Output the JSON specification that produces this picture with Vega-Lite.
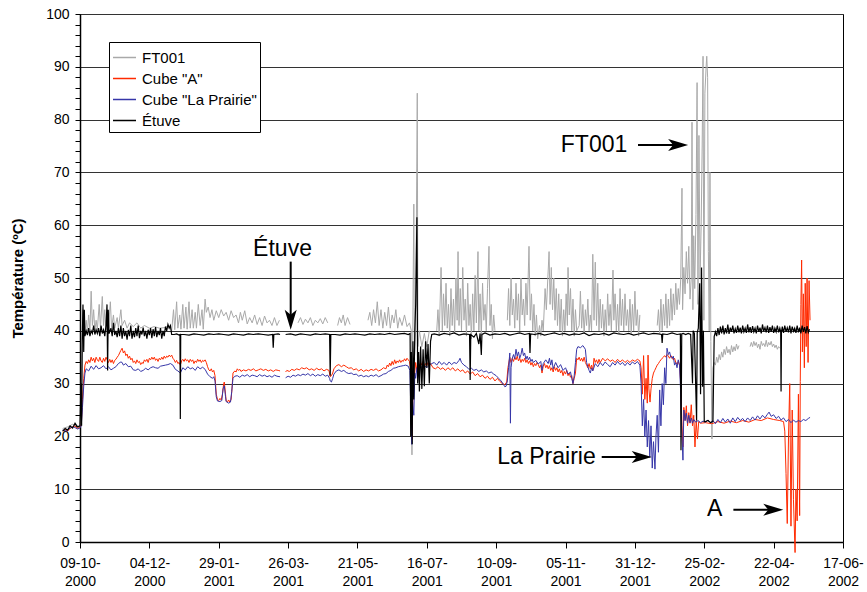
{
  "$schema": "https://vega.github.io/schema/vega-lite/v6.json",
  "width": 763,
  "height": 528,
  "autosize": {"type": "none"},
  "padding": {"left": 80, "top": 14, "right": 24, "bottom": 50},
  "background": "white",
  "config": {
    "font": "Liberation Sans",
    "view": {"stroke": "black", "strokeWidth": 1},
    "axis": {"labelFont": "Liberation Sans", "labelFontSize": 14, "labelColor": "black", "tickColor": "black", "domainColor": "black", "domainWidth": 1.5, "titleFont": "Liberation Sans", "titleFontSize": 15, "titleColor": "black"}
  },
  "datasets": {
    "ft": [
      {"d":-14,"t":21.5},{"d":-10,"t":21.8},{"d":-6,"t":22.3},{"d":-3,"t":22},{"d":0,"t":21.8},{"d":1,"t":28},{"d":1.6,"t":36},{"d":2.4,"t":44},{"d":3,"t":40},{"d":4,"t":39.5},{"d":5,"t":42},{"d":6,"t":39.8},{"d":7,"t":43},{"d":8,"t":40},{"d":9,"t":47.5},{"d":10,"t":41},{"d":11,"t":44},{"d":12,"t":40},{"d":13,"t":42},{"d":14,"t":40.2},{"d":15.5,"t":45},{"d":16.5,"t":40.5},{"d":18,"t":46.5},{"d":19,"t":41},{"d":20,"t":44},{"d":21,"t":40},{"d":22,"t":43},{"d":23,"t":40.5},{"d":24.5,"t":45.5},{"d":25.5,"t":40.5},{"d":27,"t":43},{"d":28,"t":40.5},{"d":30,"t":42.5},{"d":31,"t":40.5},{"d":33,"t":44},{"d":34,"t":41},{"d":36,"t":42},{"d":38,"t":40.5},{"d":40,"t":41.5},{"d":43,"t":40.8},{"d":46,"t":41.5},{"d":49,"t":40.5},{"d":52,"t":41},{"d":56,"t":40.5},{"d":60,"t":40.8},{"d":64,"t":40.5},{"d":68,"t":40.6},{"d":72,"t":41},{"d":74,"t":40},{"d":75.5,"t":44},{"d":76.5,"t":40.2},{"d":78,"t":45.5},{"d":79,"t":40.5},{"d":80.5,"t":43},{"d":81.5,"t":40.3},{"d":83,"t":45},{"d":84,"t":40.5},{"d":85.5,"t":44.5},{"d":86.5,"t":40.3},{"d":88,"t":45.5},{"d":89,"t":40.5},{"d":90.5,"t":44},{"d":91.5,"t":40.5},{"d":93,"t":43.5},{"d":94,"t":40.5},{"d":95.5,"t":45},{"d":97,"t":41},{"d":98.5,"t":44},{"d":99.5,"t":40.3},{"d":101,"t":46},{"d":102,"t":43.5},{"d":103.5,"t":44.5},{"d":105,"t":42.5},{"d":106.5,"t":44},{"d":108,"t":42},{"d":110,"t":43.8},{"d":112,"t":42.5},{"d":114,"t":44},{"d":116,"t":42.8},{"d":118,"t":43.5},{"d":120,"t":42},{"d":122,"t":43.8},{"d":124,"t":42.5},{"d":126,"t":43},{"d":128,"t":41.5},{"d":129.5,"t":43.5},{"d":131,"t":42},{"d":133,"t":43.8},{"d":135,"t":41.3},{"d":137,"t":42.5},{"d":139,"t":41.5},{"d":141,"t":43},{"d":143,"t":41.2},{"d":145,"t":42.5},{"d":147,"t":41},{"d":149,"t":42.8},{"d":151,"t":41.5},{"d":153,"t":42},{"d":155,"t":41},{"d":157,"t":42.5},{"d":159,"t":41},{"d":161,"t":42},{"d":162,"t":null},
      {"d":176,"t":41.5},{"d":178,"t":42.5},{"d":180,"t":41.2},{"d":182,"t":42.2},{"d":184,"t":41.5},{"d":186,"t":42.5},{"d":188,"t":41},{"d":190,"t":42},{"d":192,"t":41.5},{"d":194,"t":42.3},{"d":196,"t":41.3},{"d":198,"t":42.5},{"d":200,"t":41.5},{"d":202,"t":null},
      {"d":208,"t":41},{"d":209.5,"t":42.5},{"d":211,"t":41.5},{"d":212.5,"t":43},{"d":214,"t":41},{"d":216,"t":42.5},{"d":218,"t":41.2},{"d":219,"t":null},
      {"d":232.5,"t":42},{"d":234,"t":43.5},{"d":235.5,"t":41},{"d":237,"t":44},{"d":238.5,"t":41.5},{"d":240,"t":45.5},{"d":241.5,"t":41},{"d":243,"t":44},{"d":244.5,"t":40.5},{"d":246,"t":43.5},{"d":247.5,"t":41},{"d":249,"t":44.5},{"d":250.5,"t":40.5},{"d":252,"t":43},{"d":253.5,"t":41.5},{"d":255,"t":44},{"d":256.5,"t":40.5},{"d":258,"t":42.5},{"d":260,"t":41},{"d":262,"t":43},{"d":264,"t":40.8},{"d":266,"t":41.5},{"d":267.5,"t":40},{"d":268,"t":16.5},{"d":268.6,"t":38},{"d":269.5,"t":64},{"d":270,"t":35},{"d":271,"t":40},{"d":272.3,"t":85},{"d":272.8,"t":37},{"d":274,"t":40},{"d":276,"t":37},{"d":278,"t":39.5},{"d":280,"t":37},{"d":282,"t":40},{"d":284,"t":null},
      {"d":288,"t":40},{"d":289,"t":44},{"d":290,"t":39},{"d":291.5,"t":52},{"d":292.5,"t":40},{"d":293.5,"t":47},{"d":294.5,"t":41},{"d":295.5,"t":49},{"d":296.5,"t":40.5},{"d":297.5,"t":45},{"d":298.5,"t":39},{"d":299.5,"t":48},{"d":300.5,"t":41},{"d":301.5,"t":46},{"d":302.5,"t":39.5},{"d":303.5,"t":50},{"d":304.5,"t":42},{"d":305.2,"t":55},{"d":306,"t":41},{"d":307,"t":48},{"d":308,"t":40},{"d":309,"t":52},{"d":310,"t":42},{"d":311,"t":46},{"d":312,"t":39},{"d":313,"t":49},{"d":314,"t":41},{"d":315,"t":45},{"d":316,"t":38.5},{"d":317,"t":47},{"d":318,"t":40},{"d":319,"t":50.5},{"d":320,"t":41.5},{"d":321.3,"t":55},{"d":322,"t":40},{"d":323,"t":47},{"d":324,"t":39},{"d":325,"t":49},{"d":326,"t":42},{"d":327,"t":45},{"d":328,"t":40},{"d":329,"t":48},{"d":330.2,"t":56},{"d":331,"t":41},{"d":332,"t":45},{"d":333,"t":38.5},{"d":334,"t":43},{"d":335,"t":40},{"d":336,"t":null},
      {"d":345,"t":42},{"d":346,"t":48},{"d":347,"t":41},{"d":348,"t":50},{"d":349,"t":43},{"d":350,"t":46},{"d":351,"t":40.5},{"d":352,"t":49},{"d":353,"t":42},{"d":354,"t":47},{"d":355,"t":40},{"d":356,"t":50},{"d":357,"t":43},{"d":358,"t":46},{"d":359,"t":41},{"d":360,"t":49},{"d":361,"t":43},{"d":362.5,"t":56},{"d":363.5,"t":42},{"d":364.5,"t":47},{"d":365.5,"t":40},{"d":366.5,"t":45},{"d":367.5,"t":39},{"d":368.5,"t":43},{"d":369.5,"t":38.5},{"d":371,"t":41},{"d":372,"t":39},{"d":373,"t":42},{"d":374,"t":40},{"d":375.5,"t":48},{"d":376.5,"t":44},{"d":378.7,"t":55},{"d":379.5,"t":45},{"d":380.5,"t":52},{"d":381.5,"t":44},{"d":382.5,"t":50},{"d":383.5,"t":42},{"d":384.5,"t":48},{"d":385.5,"t":41},{"d":386.5,"t":47},{"d":387.5,"t":40},{"d":388.5,"t":46},{"d":389.5,"t":39},{"d":390.5,"t":44},{"d":391.5,"t":40},{"d":392.5,"t":47},{"d":393.5,"t":41},{"d":394,"t":52},{"d":395,"t":43},{"d":396,"t":48},{"d":397,"t":40},{"d":398,"t":46},{"d":399,"t":39},{"d":400,"t":44},{"d":401,"t":40},{"d":403,"t":41},{"d":404,"t":47.5},{"d":405,"t":40.5},{"d":406,"t":45},{"d":407,"t":39.5},{"d":408,"t":44},{"d":409,"t":41},{"d":410,"t":46},{"d":411,"t":40},{"d":412,"t":43},{"d":413,"t":40},{"d":414,"t":54.5},{"d":415,"t":42},{"d":416,"t":53},{"d":417,"t":41},{"d":418,"t":49},{"d":419,"t":40},{"d":420,"t":46},{"d":421,"t":40.5},{"d":422,"t":45},{"d":423,"t":39},{"d":424,"t":44},{"d":425,"t":40},{"d":426,"t":47},{"d":427,"t":41},{"d":428,"t":45},{"d":429,"t":40},{"d":430.3,"t":51.5},{"d":431,"t":42},{"d":432,"t":47},{"d":433,"t":40},{"d":434,"t":45},{"d":435,"t":39.5},{"d":436,"t":48},{"d":437,"t":41},{"d":438,"t":46},{"d":439,"t":40},{"d":440,"t":47},{"d":441,"t":41},{"d":442,"t":44},{"d":443,"t":40},{"d":444,"t":46},{"d":445,"t":39.5},{"d":446,"t":45},{"d":447,"t":40},{"d":448,"t":47.5},{"d":449,"t":41},{"d":450,"t":44},{"d":451,"t":39},{"d":452,"t":43},{"d":453,"t":null},
      {"d":466,"t":41},{"d":467,"t":44},{"d":468,"t":39.5},{"d":469,"t":46},{"d":470,"t":40},{"d":471,"t":45},{"d":472,"t":41},{"d":473,"t":47},{"d":474,"t":40.5},{"d":475,"t":46},{"d":476,"t":41},{"d":477,"t":48},{"d":478,"t":42},{"d":479,"t":47},{"d":480,"t":43},{"d":481,"t":49},{"d":482,"t":44},{"d":483,"t":48},{"d":484,"t":45},{"d":485,"t":50},{"d":486,"t":67},{"d":486.5,"t":44},{"d":487.5,"t":52},{"d":488.5,"t":47},{"d":489.5,"t":55},{"d":490.5,"t":49},{"d":491.5,"t":56},{"d":492.5,"t":46},{"d":493.5,"t":50},{"d":494.1,"t":79.5},{"d":494.8,"t":44},{"d":495.5,"t":58},{"d":496.3,"t":48},{"d":497.3,"t":62},{"d":498.2,"t":87},{"d":498.9,"t":45},{"d":499.7,"t":77},{"d":500.6,"t":50},{"d":501.5,"t":60},{"d":502.3,"t":75},{"d":503,"t":92},{"d":503.7,"t":42},{"d":504.5,"t":85},{"d":505.5,"t":90},{"d":506,"t":92},{"d":506.7,"t":88},{"d":507.3,"t":55},{"d":508,"t":40},{"d":508.6,"t":70},{"d":509.3,"t":38},{"d":510.2,"t":19.5},{"d":511,"t":33},{"d":512,"t":34},{"d":513,"t":33.5},{"d":514,"t":35},{"d":515,"t":34},{"d":516,"t":35.5},{"d":517,"t":34.5},{"d":518,"t":36},{"d":519,"t":35},{"d":520,"t":36.5},{"d":521,"t":35.5},{"d":522,"t":37},{"d":523,"t":35.8},{"d":524,"t":36.5},{"d":525,"t":35.5},{"d":526,"t":37.2},{"d":527,"t":36},{"d":528,"t":37},{"d":529,"t":36.2},{"d":530,"t":37.5},{"d":531,"t":36.5},{"d":532,"t":37.2},{"d":533,"t":null},
      {"d":541,"t":37},{"d":542,"t":37.8},{"d":543,"t":37},{"d":544,"t":38},{"d":545,"t":37.2},{"d":546,"t":37.8},{"d":547,"t":36.8},{"d":548,"t":37.5},{"d":549,"t":36.5},{"d":550,"t":38},{"d":551,"t":37.2},{"d":552,"t":37.6},{"d":553,"t":37},{"d":554,"t":38.2},{"d":555,"t":37},{"d":556,"t":37.8},{"d":557,"t":37.3},{"d":558,"t":38},{"d":559,"t":37},{"d":560,"t":37.5},{"d":561,"t":36.8},{"d":562,"t":37.3},{"d":563,"t":36.5},{"d":564,"t":37},{"d":565,"t":36.7}
    ],
    "cubeA": [
      {"d":-14,"t":21},{"d":-12,"t":21.3},{"d":-10,"t":21},{"d":-8,"t":21.5},{"d":-6,"t":21.8},{"d":-4,"t":22},{"d":-2,"t":21.5},{"d":0,"t":21.8},{"d":1,"t":22},{"d":2,"t":27},{"d":3,"t":31},{"d":4,"t":33.5},{"d":5,"t":34.2},{"d":6,"t":33.8},{"d":7,"t":34.5},{"d":8,"t":34},{"d":9,"t":35},{"d":10,"t":34.3},{"d":11,"t":34.8},{"d":12,"t":34},{"d":13,"t":35},{"d":14,"t":34.5},{"d":15,"t":34.2},{"d":16,"t":35},{"d":17,"t":34.3},{"d":18,"t":34},{"d":19,"t":34.8},{"d":20,"t":34.2},{"d":21,"t":35},{"d":22,"t":34.5},{"d":23,"t":34},{"d":24,"t":34.6},{"d":25,"t":34},{"d":26,"t":34.5},{"d":27,"t":33.8},{"d":28,"t":34.4},{"d":29,"t":34.6},{"d":30,"t":35},{"d":31,"t":35.3},{"d":32,"t":35.8},{"d":33,"t":36.3},{"d":34,"t":36.7},{"d":35,"t":35.8},{"d":36,"t":36.2},{"d":37,"t":35.3},{"d":38,"t":35.6},{"d":39,"t":34.8},{"d":40,"t":35.2},{"d":41,"t":34.5},{"d":42,"t":34.8},{"d":43,"t":34},{"d":44,"t":34.3},{"d":45,"t":33.8},{"d":46,"t":34.5},{"d":47,"t":34},{"d":48,"t":34.2},{"d":49,"t":33.6},{"d":50,"t":34},{"d":51,"t":33.8},{"d":52,"t":34.5},{"d":53,"t":34.2},{"d":54,"t":34.6},{"d":55,"t":34},{"d":56,"t":34.8},{"d":57,"t":34.5},{"d":58,"t":35},{"d":59,"t":34.6},{"d":60,"t":35},{"d":61,"t":34.4},{"d":62,"t":34.7},{"d":63,"t":34.2},{"d":64,"t":34.8},{"d":65,"t":34.5},{"d":66,"t":35},{"d":67,"t":34.6},{"d":68,"t":35.2},{"d":69,"t":34.8},{"d":70,"t":35.2},{"d":71,"t":35},{"d":72,"t":35.4},{"d":73,"t":35.1},{"d":74,"t":35.4},{"d":75,"t":34.8},{"d":76,"t":34.5},{"d":77,"t":34},{"d":78,"t":34.4},{"d":79,"t":33.8},{"d":80,"t":34},{"d":81,"t":33.5},{"d":82,"t":34.3},{"d":83,"t":34.6},{"d":84,"t":34.2},{"d":85,"t":34.7},{"d":86,"t":34.3},{"d":87,"t":34.5},{"d":88,"t":34},{"d":89,"t":34.6},{"d":90,"t":34.2},{"d":91,"t":34.5},{"d":92,"t":33.8},{"d":93,"t":34.3},{"d":94,"t":34},{"d":95,"t":34.6},{"d":96,"t":34.2},{"d":97,"t":34.5},{"d":98,"t":34},{"d":99,"t":34.4},{"d":100,"t":34.2},{"d":101,"t":34.5},{"d":102,"t":34},{"d":103,"t":33.2},{"d":104,"t":32.6},{"d":105,"t":32.4},{"d":106,"t":32.8},{"d":107,"t":32.2},{"d":108,"t":32.5},{"d":109,"t":31.5},{"d":110,"t":28},{"d":111,"t":27},{"d":112,"t":26.8},{"d":113,"t":27.2},{"d":114,"t":26.9},{"d":115,"t":28},{"d":116,"t":30},{"d":116.5,"t":30.3},{"d":117.5,"t":28},{"d":118,"t":26.7},{"d":119,"t":26.5},{"d":120,"t":26.9},{"d":121,"t":26.5},{"d":122,"t":27},{"d":122.7,"t":29},{"d":123.5,"t":32},{"d":125,"t":32.4},{"d":126,"t":32.2},{"d":127,"t":32.8},{"d":128,"t":32.5},{"d":129,"t":32.7},{"d":130,"t":32.3},{"d":132,"t":32.6},{"d":134,"t":32.4},{"d":136,"t":32.7},{"d":138,"t":32.5},{"d":140,"t":32.8},{"d":142,"t":32.4},{"d":144,"t":32.6},{"d":146,"t":32.8},{"d":148,"t":32.5},{"d":150,"t":32.7},{"d":152,"t":32.4},{"d":154,"t":32.6},{"d":156,"t":32.3},{"d":158,"t":32.6},{"d":160,"t":32.5},{"d":161.5,"t":32.4},{"d":162,"t":null},
      {"d":166,"t":32.2},{"d":167,"t":32.5},{"d":169,"t":32.3},{"d":171,"t":32.7},{"d":173,"t":32.5},{"d":175,"t":32.8},{"d":177,"t":32.6},{"d":179,"t":33},{"d":181,"t":32.8},{"d":183,"t":33},{"d":185,"t":32.6},{"d":187,"t":32.8},{"d":189,"t":32.5},{"d":191,"t":32.9},{"d":193,"t":32.6},{"d":195,"t":32.8},{"d":197,"t":32.4},{"d":199,"t":32.7},{"d":201,"t":32.5},{"d":202,"t":31.3},{"d":203,"t":31.5},{"d":204,"t":32},{"d":205,"t":32.8},{"d":207,"t":33.4},{"d":209,"t":33.6},{"d":211,"t":33.2},{"d":213,"t":33.5},{"d":215,"t":33.2},{"d":217,"t":32.9},{"d":219,"t":33},{"d":221,"t":32.6},{"d":223,"t":32.8},{"d":225,"t":32.4},{"d":227,"t":32.7},{"d":229,"t":32.3},{"d":231,"t":32.6},{"d":233,"t":32.4},{"d":235,"t":32.7},{"d":237,"t":32.5},{"d":239,"t":32.8},{"d":241,"t":32.4},{"d":243,"t":32.6},{"d":245,"t":33},{"d":247,"t":32.8},{"d":248,"t":33.5},{"d":249,"t":33.2},{"d":250,"t":33.9},{"d":251,"t":33.4},{"d":252,"t":34.2},{"d":253,"t":33.6},{"d":254,"t":34.5},{"d":255,"t":33.8},{"d":256,"t":34.3},{"d":257,"t":34},{"d":258,"t":34.5},{"d":259,"t":34},{"d":260,"t":34.4},{"d":261,"t":34.2},{"d":262,"t":34.7},{"d":263,"t":34.3},{"d":264,"t":34.8},{"d":265,"t":34.5},{"d":266,"t":34.2},{"d":266.8,"t":33},{"d":267.5,"t":24},{"d":268,"t":19.5},{"d":268.5,"t":24},{"d":269,"t":33},{"d":270,"t":31.5},{"d":271,"t":34},{"d":272,"t":32.5},{"d":273,"t":33.8},{"d":274,"t":33},{"d":275,"t":34},{"d":276,"t":33.5},{"d":277,"t":34.2},{"d":278,"t":33.2},{"d":279,"t":33.8},{"d":280,"t":33.4},{"d":281,"t":34},{"d":282,"t":33.3},{"d":283,"t":33.8},{"d":285,"t":33},{"d":287,"t":32.8},{"d":289,"t":33.2},{"d":291,"t":32.7},{"d":293,"t":33},{"d":295,"t":32.5},{"d":297,"t":33},{"d":299,"t":32.6},{"d":301,"t":33},{"d":303,"t":32.4},{"d":305,"t":32.8},{"d":307,"t":32.3},{"d":309,"t":32.6},{"d":311,"t":32},{"d":313,"t":32.4},{"d":315,"t":31.8},{"d":317,"t":32.2},{"d":319,"t":31.5},{"d":321,"t":31.9},{"d":323,"t":31.3},{"d":325,"t":31.6},{"d":327,"t":31},{"d":329,"t":31.4},{"d":331,"t":30.8},{"d":333,"t":31.2},{"d":335,"t":30.5},{"d":337,"t":31},{"d":339,"t":30.4},{"d":341,"t":30},{"d":343,"t":29.8},{"d":344.5,"t":30.3},{"d":345.5,"t":33},{"d":347,"t":35},{"d":348,"t":34},{"d":349,"t":34.8},{"d":350,"t":34.2},{"d":351,"t":35},{"d":352,"t":34.5},{"d":353,"t":35.2},{"d":354,"t":34.3},{"d":355,"t":34.8},{"d":356,"t":34},{"d":357,"t":34.6},{"d":358,"t":34.2},{"d":359,"t":34.8},{"d":360,"t":34},{"d":361,"t":34.5},{"d":362,"t":33.8},{"d":363,"t":34.3},{"d":364,"t":33.5},{"d":365,"t":34},{"d":366,"t":33.2},{"d":367,"t":33.8},{"d":368,"t":33.4},{"d":369,"t":34},{"d":370,"t":33.6},{"d":371,"t":33},{"d":372,"t":33.5},{"d":373,"t":32},{"d":374,"t":33.3},{"d":375,"t":33.8},{"d":376,"t":33},{"d":377,"t":33.5},{"d":378,"t":32.8},{"d":379,"t":33.4},{"d":380,"t":32.5},{"d":381,"t":33},{"d":382,"t":32.2},{"d":383,"t":33.2},{"d":384,"t":32.5},{"d":385,"t":33},{"d":386,"t":32.2},{"d":387,"t":32.8},{"d":388,"t":32},{"d":389,"t":32.5},{"d":390,"t":31.5},{"d":391,"t":32.3},{"d":392,"t":31.8},{"d":393,"t":32.5},{"d":394,"t":31.5},{"d":395,"t":32},{"d":396,"t":31.2},{"d":397,"t":31.5},{"d":398,"t":30},{"d":399,"t":31},{"d":400,"t":32},{"d":401,"t":34.8},{"d":402,"t":34.5},{"d":403,"t":35},{"d":404,"t":34.3},{"d":405,"t":34.8},{"d":406,"t":34.2},{"d":407,"t":35},{"d":408,"t":34},{"d":409,"t":33.5},{"d":410,"t":33},{"d":411,"t":33.8},{"d":412,"t":32.8},{"d":413,"t":33.5},{"d":414,"t":32.5},{"d":415,"t":34.8},{"d":416,"t":34},{"d":417,"t":34.5},{"d":418,"t":33.8},{"d":419,"t":34.6},{"d":420,"t":34},{"d":422,"t":34.8},{"d":424,"t":34.3},{"d":426,"t":34.7},{"d":428,"t":34.2},{"d":430,"t":34.5},{"d":432,"t":34},{"d":434,"t":34.6},{"d":436,"t":34.1},{"d":438,"t":34.5},{"d":440,"t":34},{"d":442,"t":34.4},{"d":444,"t":34},{"d":446,"t":34.5},{"d":448,"t":34.2},{"d":450,"t":34.6},{"d":452,"t":34.3},{"d":453,"t":33},{"d":454,"t":28},{"d":455,"t":35.3},{"d":456,"t":27},{"d":457,"t":31},{"d":458,"t":26.3},{"d":458.6,"t":35.4},{"d":459.3,"t":29},{"d":460.2,"t":26.5},{"d":461,"t":29},{"d":462,"t":31},{"d":463,"t":32},{"d":464,"t":32.5},{"d":465,"t":33},{"d":466,"t":33.5},{"d":467,"t":33.8},{"d":468,"t":34.2},{"d":469,"t":34.5},{"d":470,"t":34.8},{"d":471,"t":35},{"d":472,"t":35.3},{"d":473,"t":35},{"d":474,"t":35.5},{"d":475,"t":35.2},{"d":476,"t":34.8},{"d":477,"t":35.3},{"d":478,"t":35},{"d":479,"t":34.5},{"d":480,"t":34.8},{"d":481,"t":34},{"d":482,"t":33.7},{"d":483,"t":34.2},{"d":484,"t":33.5},{"d":485,"t":30},{"d":486,"t":22},{"d":486.8,"t":18},{"d":487.5,"t":25.5},{"d":488.5,"t":23},{"d":489.5,"t":25.8},{"d":490.5,"t":22},{"d":491.5,"t":24.5},{"d":492.5,"t":22.5},{"d":493.5,"t":26},{"d":494.5,"t":22},{"d":495.5,"t":24},{"d":496.5,"t":18},{"d":497.5,"t":23},{"d":498.5,"t":19.5},{"d":499.5,"t":22.8},{"d":501,"t":22.5},{"d":505,"t":22.6},{"d":510,"t":22.4},{"d":515,"t":22.8},{"d":520,"t":22.5},{"d":525,"t":22.9},{"d":530,"t":22.6},{"d":535,"t":23},{"d":540,"t":22.7},{"d":545,"t":23.2},{"d":550,"t":23},{"d":555,"t":23.5},{"d":560,"t":23.2},{"d":565,"t":23},{"d":568,"t":22.8},{"d":569,"t":21},{"d":570,"t":13},{"d":571,"t":3.5},{"d":572,"t":20},{"d":573,"t":30},{"d":574,"t":3},{"d":575,"t":25},{"d":576,"t":8},{"d":577.3,"t":-2},{"d":578,"t":10},{"d":579,"t":4},{"d":580,"t":28},{"d":581,"t":5},{"d":581.5,"t":30.4},{"d":582,"t":45},{"d":582.6,"t":53.4},{"d":583.2,"t":36},{"d":584,"t":47},{"d":584.8,"t":33},{"d":585.5,"t":49},{"d":586.3,"t":37},{"d":587,"t":50},{"d":587.8,"t":34},{"d":588.6,"t":49.5},{"d":589.4,"t":42}
    ],
    "prairie": [
      {"d":-14,"t":21.2},{"d":-11,"t":21},{"d":-8,"t":21.6},{"d":-5,"t":21.8},{"d":-2,"t":21.4},{"d":0,"t":21.6},{"d":1,"t":22},{"d":2,"t":25.5},{"d":3,"t":29.5},{"d":4,"t":32},{"d":5,"t":32.8},{"d":7,"t":32.4},{"d":9,"t":33.3},{"d":11,"t":32.7},{"d":13,"t":33.4},{"d":15,"t":32.8},{"d":17,"t":33},{"d":19,"t":33.4},{"d":21,"t":32.8},{"d":23,"t":33.2},{"d":25,"t":32.6},{"d":27,"t":32.9},{"d":29,"t":33.2},{"d":31,"t":33.8},{"d":33,"t":34.1},{"d":34,"t":34},{"d":35,"t":33.5},{"d":37,"t":33.8},{"d":39,"t":33.2},{"d":41,"t":33.3},{"d":43,"t":32.6},{"d":45,"t":32.5},{"d":47,"t":32.8},{"d":49,"t":32.3},{"d":51,"t":32.5},{"d":53,"t":32.9},{"d":55,"t":32.6},{"d":57,"t":33},{"d":59,"t":33.2},{"d":61,"t":33},{"d":63,"t":32.9},{"d":65,"t":33.3},{"d":67,"t":33.4},{"d":69,"t":33.5},{"d":71,"t":33.6},{"d":73,"t":33.8},{"d":75,"t":33.5},{"d":77,"t":32.7},{"d":79,"t":32.4},{"d":81,"t":32},{"d":83,"t":33},{"d":85,"t":32.6},{"d":87,"t":33.2},{"d":89,"t":32.8},{"d":91,"t":33},{"d":93,"t":32.5},{"d":95,"t":33.2},{"d":97,"t":32.8},{"d":99,"t":33.1},{"d":101,"t":32.7},{"d":103,"t":31.8},{"d":105,"t":31.3},{"d":107,"t":31},{"d":108,"t":31.3},{"d":109,"t":30.5},{"d":110,"t":27.5},{"d":111,"t":26.7},{"d":113,"t":26.6},{"d":114.5,"t":26.8},{"d":115.5,"t":29},{"d":116.5,"t":29.6},{"d":117.5,"t":27.5},{"d":118,"t":26.6},{"d":120,"t":26.3},{"d":121.5,"t":26.5},{"d":122.5,"t":28.5},{"d":123.5,"t":31},{"d":125,"t":31.4},{"d":127,"t":31.5},{"d":129,"t":31.2},{"d":131,"t":31.6},{"d":133,"t":31.4},{"d":135,"t":31.7},{"d":137,"t":31.3},{"d":139,"t":31.6},{"d":141,"t":31.5},{"d":143,"t":31.3},{"d":145,"t":31.7},{"d":147,"t":31.4},{"d":149,"t":31.6},{"d":151,"t":31.3},{"d":153,"t":31.5},{"d":155,"t":31.2},{"d":157,"t":31.6},{"d":159,"t":31.4},{"d":161.5,"t":31.3},{"d":162,"t":null},
      {"d":166,"t":31.1},{"d":168,"t":31.4},{"d":170,"t":31.2},{"d":172,"t":31.6},{"d":174,"t":31.4},{"d":176,"t":31.7},{"d":178,"t":31.5},{"d":180,"t":31.8},{"d":182,"t":31.6},{"d":184,"t":31.9},{"d":186,"t":31.5},{"d":188,"t":31.8},{"d":190,"t":31.4},{"d":192,"t":31.7},{"d":194,"t":31.5},{"d":196,"t":31.8},{"d":198,"t":31.4},{"d":200,"t":31.6},{"d":201.5,"t":31},{"d":202,"t":30.5},{"d":203,"t":30.3},{"d":204,"t":31},{"d":205,"t":31.8},{"d":207,"t":32.4},{"d":209,"t":32.6},{"d":211,"t":32.3},{"d":213,"t":32.5},{"d":215,"t":32.1},{"d":217,"t":31.9},{"d":219,"t":32},{"d":221,"t":31.7},{"d":223,"t":31.8},{"d":225,"t":31.4},{"d":227,"t":31.6},{"d":229,"t":31.3},{"d":231,"t":31.5},{"d":233,"t":31.3},{"d":235,"t":31.6},{"d":237,"t":31.4},{"d":239,"t":31.7},{"d":241,"t":31.3},{"d":243,"t":31.5},{"d":245,"t":31.8},{"d":247,"t":31.9},{"d":249,"t":32.3},{"d":251,"t":32.5},{"d":253,"t":32.9},{"d":255,"t":33},{"d":257,"t":33.2},{"d":259,"t":33.3},{"d":261,"t":33.4},{"d":263,"t":33.5},{"d":265,"t":33.3},{"d":266.3,"t":32.5},{"d":267,"t":26},{"d":267.8,"t":18.5},{"d":268.5,"t":26.5},{"d":269.5,"t":24},{"d":270.3,"t":32},{"d":271,"t":31},{"d":272,"t":33},{"d":273,"t":32.5},{"d":274,"t":33.6},{"d":276,"t":33},{"d":278,"t":33.4},{"d":280,"t":33},{"d":282,"t":33.5},{"d":284,"t":33.8},{"d":286,"t":34},{"d":288,"t":33.5},{"d":290,"t":34.2},{"d":292,"t":33.6},{"d":294,"t":34},{"d":296,"t":33.5},{"d":298,"t":34.1},{"d":300,"t":33.6},{"d":302,"t":34},{"d":304,"t":33.8},{"d":306,"t":34.4},{"d":306.8,"t":34.8},{"d":308,"t":34},{"d":310,"t":33.5},{"d":312,"t":33.2},{"d":314,"t":32.7},{"d":316,"t":32.9},{"d":318,"t":32.5},{"d":320,"t":32.7},{"d":322,"t":32.3},{"d":324,"t":32.6},{"d":326,"t":32.2},{"d":328,"t":32.4},{"d":330,"t":32},{"d":332,"t":32.2},{"d":334,"t":31.8},{"d":336,"t":31.5},{"d":338,"t":31},{"d":340,"t":30.5},{"d":342,"t":29.8},{"d":343,"t":29.4},{"d":344,"t":29.5},{"d":345,"t":30.5},{"d":346,"t":33},{"d":347,"t":35.8},{"d":347.5,"t":22.5},{"d":348,"t":33},{"d":349,"t":34.8},{"d":350,"t":35.5},{"d":351,"t":34.7},{"d":352,"t":36.5},{"d":353,"t":35.2},{"d":354,"t":36},{"d":355,"t":34.8},{"d":356,"t":35.5},{"d":357,"t":36.7},{"d":358,"t":35.3},{"d":359,"t":35.8},{"d":360,"t":34.6},{"d":361,"t":35.2},{"d":362,"t":34.5},{"d":363,"t":35},{"d":364,"t":34.2},{"d":365,"t":34.6},{"d":366,"t":34},{"d":368,"t":34.4},{"d":370,"t":33.7},{"d":372,"t":34.2},{"d":373,"t":32.5},{"d":374,"t":33.8},{"d":376,"t":34.5},{"d":378,"t":33.8},{"d":379,"t":34.8},{"d":380,"t":33.5},{"d":381,"t":34.5},{"d":382,"t":32.8},{"d":384,"t":34},{"d":386,"t":33},{"d":388,"t":33.6},{"d":390,"t":32.5},{"d":392,"t":33},{"d":394,"t":31.8},{"d":396,"t":32.2},{"d":397,"t":31},{"d":398,"t":30},{"d":399,"t":31.5},{"d":400,"t":34},{"d":401,"t":36.5},{"d":402,"t":37},{"d":404,"t":36.8},{"d":406,"t":37.2},{"d":408,"t":36.5},{"d":409,"t":34},{"d":410,"t":33.2},{"d":411,"t":32.5},{"d":412,"t":32},{"d":413,"t":33},{"d":414,"t":32.4},{"d":416,"t":33.8},{"d":418,"t":33.2},{"d":420,"t":34},{"d":422,"t":33.4},{"d":424,"t":34.1},{"d":426,"t":33.6},{"d":428,"t":33.2},{"d":430,"t":34},{"d":432,"t":33.5},{"d":434,"t":34.2},{"d":436,"t":33.6},{"d":438,"t":34},{"d":440,"t":33.4},{"d":442,"t":34},{"d":444,"t":33.5},{"d":446,"t":34.1},{"d":448,"t":33.7},{"d":450,"t":34.2},{"d":452,"t":33.5},{"d":453,"t":30},{"d":454,"t":22},{"d":455,"t":27},{"d":456,"t":19.9},{"d":457,"t":25},{"d":458,"t":18},{"d":459,"t":23},{"d":460,"t":16},{"d":461,"t":22},{"d":462,"t":14},{"d":463,"t":19},{"d":464.2,"t":13.8},{"d":465,"t":20},{"d":466,"t":24},{"d":467,"t":17},{"d":468,"t":28.8},{"d":469,"t":22},{"d":470,"t":30},{"d":471,"t":26},{"d":472,"t":33},{"d":473,"t":30},{"d":473.9,"t":36.7},{"d":475,"t":35.5},{"d":476,"t":36},{"d":477,"t":35},{"d":478,"t":34.8},{"d":479,"t":35.2},{"d":480,"t":33.5},{"d":481,"t":34},{"d":482,"t":33},{"d":483,"t":34.5},{"d":484,"t":33.5},{"d":485,"t":28},{"d":486,"t":20},{"d":486.8,"t":15.5},{"d":487.5,"t":25},{"d":488.5,"t":23},{"d":489.5,"t":24.4},{"d":490.5,"t":22.5},{"d":491.5,"t":24},{"d":492.5,"t":22.6},{"d":493.5,"t":23.5},{"d":494.5,"t":22.5},{"d":495.5,"t":23.2},{"d":497,"t":22.7},{"d":499,"t":23},{"d":501,"t":22.6},{"d":503,"t":22.9},{"d":505,"t":22.7},{"d":507,"t":23.1},{"d":509,"t":22.6},{"d":511,"t":23},{"d":513,"t":22.4},{"d":515,"t":23.2},{"d":517,"t":22.6},{"d":519,"t":23.4},{"d":521,"t":22.7},{"d":523,"t":23.3},{"d":525,"t":22.5},{"d":527,"t":23.5},{"d":529,"t":22.8},{"d":531,"t":23.6},{"d":533,"t":23},{"d":535,"t":23.4},{"d":537,"t":22.8},{"d":539,"t":23.5},{"d":541,"t":23},{"d":543,"t":23.7},{"d":545,"t":23.1},{"d":547,"t":23.9},{"d":549,"t":23.3},{"d":551,"t":24},{"d":553,"t":23.5},{"d":555,"t":24.2},{"d":556.3,"t":24.6},{"d":558,"t":23.8},{"d":560,"t":24.1},{"d":562,"t":23.4},{"d":564,"t":23.8},{"d":566,"t":23.1},{"d":568,"t":23.5},{"d":570,"t":22.8},{"d":572,"t":23.2},{"d":574,"t":22.6},{"d":576,"t":23.1},{"d":578,"t":22.7},{"d":580,"t":23},{"d":582,"t":22.8},{"d":584,"t":23.2},{"d":586,"t":23},{"d":588,"t":23.4},{"d":589.4,"t":23.6}
    ],
    "etuve": [
      {"d":-14,"t":21},{"d":-12,"t":21.5},{"d":-10,"t":21.2},{"d":-8,"t":22},{"d":-6,"t":21.6},{"d":-4,"t":22.5},{"d":-2,"t":21.8},{"d":0,"t":22},{"d":0.8,"t":30},{"d":1.3,"t":22},{"d":1.8,"t":38},{"d":2.4,"t":45},{"d":3,"t":36},{"d":3.5,"t":44},{"d":4,"t":39},{"d":5,"t":40},{"d":6,"t":39.2},{"d":7,"t":40.5},{"d":8,"t":39},{"d":9,"t":40},{"d":10,"t":39.5},{"d":11,"t":41},{"d":12,"t":39.3},{"d":13,"t":40.2},{"d":14,"t":39.5},{"d":15,"t":40.5},{"d":16,"t":39},{"d":17,"t":41},{"d":18,"t":39.5},{"d":19,"t":40.2},{"d":20,"t":39},{"d":21,"t":41},{"d":21.8,"t":45},{"d":22.3,"t":32.5},{"d":22.8,"t":44},{"d":23.5,"t":39.5},{"d":25,"t":40.5},{"d":26,"t":39},{"d":27,"t":41.5},{"d":28,"t":39.2},{"d":29,"t":40},{"d":30,"t":38.8},{"d":31,"t":40.5},{"d":32,"t":39},{"d":33,"t":41},{"d":34,"t":38.5},{"d":35,"t":40.5},{"d":36,"t":39},{"d":37,"t":40},{"d":38,"t":38.3},{"d":39,"t":40.2},{"d":40,"t":39},{"d":41,"t":41},{"d":42,"t":38.5},{"d":43,"t":40},{"d":44,"t":38.8},{"d":45,"t":40.5},{"d":46,"t":39},{"d":47,"t":41},{"d":48,"t":38.6},{"d":49,"t":40},{"d":50,"t":39.3},{"d":51,"t":40.6},{"d":52,"t":39},{"d":53,"t":40},{"d":54,"t":38.5},{"d":55,"t":40.2},{"d":56,"t":39.2},{"d":57,"t":40.5},{"d":58,"t":38.6},{"d":59,"t":40.3},{"d":60,"t":39},{"d":61,"t":40.7},{"d":62,"t":38.8},{"d":63,"t":40},{"d":64,"t":39.2},{"d":65,"t":40.5},{"d":66,"t":38.5},{"d":67,"t":40},{"d":68,"t":39},{"d":69,"t":40.8},{"d":70,"t":40},{"d":71,"t":41.2},{"d":72,"t":40.5},{"d":73,"t":41},{"d":74,"t":39.3},{"d":76,"t":39.3},{"d":78,"t":39.4},{"d":80,"t":39.2},{"d":80.7,"t":39.3},{"d":81,"t":23.3},{"d":81.3,"t":39.3},{"d":84,"t":39.3},{"d":88,"t":39.2},{"d":92,"t":39.4},{"d":96,"t":39.3},{"d":100,"t":39.2},{"d":104,"t":39.4},{"d":108,"t":39.3},{"d":112,"t":39.4},{"d":116,"t":39.3},{"d":120,"t":39.2},{"d":124,"t":39.4},{"d":128,"t":39.3},{"d":132,"t":39.2},{"d":136,"t":39.4},{"d":140,"t":39.3},{"d":144,"t":39.4},{"d":148,"t":39.3},{"d":152,"t":39.2},{"d":155.5,"t":39.3},{"d":156,"t":36.8},{"d":156.5,"t":39.3},{"d":160,"t":39.4},{"d":161.5,"t":39.3},{"d":162,"t":null},
      {"d":166,"t":39.3},{"d":170,"t":39.4},{"d":174,"t":39.2},{"d":178,"t":39.4},{"d":182,"t":39.3},{"d":186,"t":39.2},{"d":190,"t":39.4},{"d":194,"t":39.3},{"d":198,"t":39.4},{"d":201.5,"t":39.3},{"d":202,"t":31.5},{"d":202.5,"t":39.3},{"d":206,"t":39.3},{"d":210,"t":39.2},{"d":214,"t":39.4},{"d":218,"t":39.3},{"d":222,"t":39.4},{"d":226,"t":39.3},{"d":230,"t":39.2},{"d":234,"t":39.4},{"d":238,"t":39.3},{"d":242,"t":39.4},{"d":246,"t":39.3},{"d":250,"t":39.5},{"d":254,"t":39.3},{"d":258,"t":39.4},{"d":262,"t":39.5},{"d":265,"t":39.3},{"d":266.5,"t":39.5},{"d":267,"t":20},{"d":267.5,"t":36},{"d":268.2,"t":18.5},{"d":268.8,"t":38},{"d":269.5,"t":27},{"d":270.3,"t":40},{"d":271,"t":45},{"d":272,"t":61.5},{"d":272.6,"t":30},{"d":273.4,"t":36},{"d":274,"t":28.5},{"d":275,"t":37},{"d":276,"t":29},{"d":277,"t":36.5},{"d":278,"t":29.5},{"d":279,"t":38},{"d":280,"t":33},{"d":281,"t":37.5},{"d":282,"t":30},{"d":283,"t":38},{"d":284,"t":39.3},{"d":286,"t":39.4},{"d":290,"t":39.2},{"d":294,"t":39.5},{"d":298,"t":39.3},{"d":302,"t":39.6},{"d":306,"t":39.2},{"d":310,"t":39.4},{"d":314.5,"t":39.3},{"d":315,"t":30.7},{"d":315.5,"t":39.3},{"d":318,"t":38.8},{"d":320,"t":39.5},{"d":322,"t":37.5},{"d":323,"t":39.5},{"d":324,"t":35.4},{"d":324.5,"t":39.3},{"d":327,"t":39.6},{"d":331,"t":39.2},{"d":335,"t":39.4},{"d":339,"t":39.3},{"d":343,"t":39.5},{"d":347,"t":39.2},{"d":351,"t":39.4},{"d":355,"t":39.6},{"d":359,"t":39.3},{"d":362.8,"t":39.5},{"d":363.3,"t":35.8},{"d":363.8,"t":39.4},{"d":367,"t":39.3},{"d":371,"t":39.5},{"d":375,"t":39.2},{"d":379,"t":39.4},{"d":383,"t":39.6},{"d":387,"t":39.3},{"d":391,"t":39.5},{"d":395,"t":39.2},{"d":399,"t":39.4},{"d":403,"t":39.3},{"d":407,"t":39.6},{"d":411,"t":39.1},{"d":415,"t":39.4},{"d":419,"t":39.3},{"d":423,"t":39.5},{"d":427,"t":39.2},{"d":431,"t":39.6},{"d":435,"t":39.4},{"d":439,"t":39.3},{"d":443,"t":39.5},{"d":447,"t":39.2},{"d":451,"t":39.4},{"d":455,"t":39.6},{"d":459,"t":39.3},{"d":463,"t":39.5},{"d":467,"t":39.4},{"d":469.5,"t":39.3},{"d":470,"t":37.7},{"d":470.5,"t":39.4},{"d":474,"t":39.3},{"d":478,"t":39.6},{"d":482,"t":39.3},{"d":484.7,"t":39.4},{"d":485.2,"t":17.4},{"d":485.8,"t":39.4},{"d":487,"t":39.5},{"d":489,"t":39.3},{"d":491,"t":39.5},{"d":493,"t":39.3},{"d":494.5,"t":30},{"d":495,"t":40},{"d":496,"t":39.5},{"d":497.8,"t":23},{"d":498.3,"t":39.6},{"d":499.2,"t":40.5},{"d":500.3,"t":49},{"d":501,"t":28},{"d":501.8,"t":52},{"d":502.6,"t":29.4},{"d":503.3,"t":40},{"d":504,"t":22.8},{"d":505,"t":22.8},{"d":507,"t":23},{"d":509,"t":22.6},{"d":511,"t":22.8},{"d":512,"t":38.9},{"d":513,"t":39.8},{"d":514,"t":39},{"d":515,"t":40.5},{"d":516,"t":39.2},{"d":517,"t":40.8},{"d":518,"t":39.5},{"d":519,"t":41},{"d":520,"t":39.3},{"d":521,"t":40.5},{"d":522,"t":39.5},{"d":523,"t":41.2},{"d":524,"t":39.4},{"d":525,"t":40.6},{"d":526,"t":39.8},{"d":527,"t":41},{"d":528,"t":39.5},{"d":529,"t":40.4},{"d":530,"t":39.6},{"d":531,"t":41},{"d":532,"t":39.7},{"d":533,"t":40.6},{"d":534,"t":39.5},{"d":535,"t":41},{"d":536,"t":39.8},{"d":537,"t":40.5},{"d":538,"t":39.6},{"d":539,"t":41.2},{"d":540,"t":39.7},{"d":541,"t":40.7},{"d":542,"t":39.6},{"d":543,"t":40.9},{"d":544,"t":39.8},{"d":545,"t":40.5},{"d":546,"t":39.5},{"d":547,"t":41},{"d":548,"t":39.8},{"d":549,"t":40.6},{"d":550,"t":39.5},{"d":551,"t":41.2},{"d":552,"t":39.9},{"d":553,"t":40.6},{"d":554,"t":39.7},{"d":555,"t":41},{"d":556,"t":39.6},{"d":557,"t":40.7},{"d":558,"t":39.8},{"d":559,"t":41},{"d":560,"t":39.6},{"d":561,"t":40.5},{"d":562,"t":39.8},{"d":563,"t":41},{"d":564,"t":39.7},{"d":565,"t":40.5},{"d":565.7,"t":39.8},{"d":566,"t":28.5},{"d":566.3,"t":39.8},{"d":567,"t":40.8},{"d":568,"t":39.6},{"d":569,"t":41},{"d":570,"t":39.8},{"d":571,"t":40.6},{"d":572,"t":39.7},{"d":573,"t":41},{"d":574,"t":39.5},{"d":575,"t":40.8},{"d":576,"t":39.9},{"d":577,"t":40.5},{"d":578,"t":39.6},{"d":579,"t":41},{"d":580,"t":39.7},{"d":581,"t":40.6},{"d":582,"t":39.5},{"d":583,"t":41},{"d":584,"t":39.8},{"d":585,"t":40.7},{"d":586,"t":39.5},{"d":587,"t":40.9},{"d":588,"t":39.7},{"d":589,"t":40.3}
    ],
    "labels": [
      {"label":"Étuve","d":163.5,"t":55.4},
      {"label":"FT001","d":415,"t":75.2},
      {"label":"La Prairie","d":376.6,"t":16.1},
      {"label":"A","d":512.3,"t":6.3}
    ],
    "shafts": [
      {"label":"Étuve","d":170.1,"d2":170.1,"t":53.1,"t2":43},
      {"label":"FT001","d":450.5,"d2":484,"t":75.2,"t2":75.2},
      {"label":"La Prairie","d":421.2,"d2":455,"t":16.1,"t2":16.1},
      {"label":"A","d":527.5,"d2":561,"t":6.1,"t2":6.1}
    ],
    "heads": [
      {"label":"Étuve","d":170.1,"t":42.1},
      {"label":"FT001","d":482.9,"t":75.2},
      {"label":"La Prairie","d":453.5,"t":16.1},
      {"label":"A","d":559.7,"t":6.1}
    ]
  },
  "encoding": {
    "x": {
      "field": "d", "type": "quantitative",
      "scale": {"domain": [0, 616], "nice": false, "zero": false},
      "axis": {
        "title": null, "grid": false,
        "values": [0, 56, 112, 168, 224, 280, 336, 392, 448, 504, 560, 616],
        "labelExpr": "[timeFormat(datetime(2000, 9, 9 + datum.value), '%d-%m-'), timeFormat(datetime(2000, 9, 9 + datum.value), '%Y')]",
        "labelLineHeight": 18, "labelPadding": 8, "tickSize": 6, "labelOverlap": false, "labelFlush": false
      }
    },
    "y": {
      "field": "t", "type": "quantitative",
      "scale": {"domain": [0, 100], "nice": false, "zero": false},
      "axis": {
        "title": "Température (ºC)", "titleFontWeight": "bold", "titlePadding": 20,
        "values": [0,2,4,6,8,10,12,14,16,18,20,22,24,26,28,30,32,34,36,38,40,42,44,46,48,50,52,54,56,58,60,62,64,66,68,70,72,74,76,78,80,82,84,86,88,90,92,94,96,98,100],
        "labelExpr": "datum.value % 10 === 0 ? datum.label : ''",
        "labelOverlap": false, "labelPadding": 6, "tickSize": 5,
        "grid": true, "gridColor": "#333333", "gridWidth": 1,
        "gridOpacity": {"condition": {"test": "datum.value % 10 === 0", "value": 1}, "value": 0}
      }
    }
  },
  "layer": [
    {
      "data": {"name": "ft"},
      "mark": {"type": "line", "strokeWidth": 1, "invalid": "break-paths-filter-domains"},
      "encoding": {
        "color": {
          "datum": "FT001", "type": "nominal",
          "scale": {"domain": ["FT001", "Cube \"A\"", "Cube \"La Prairie\"", "Étuve"], "range": ["#a9a9a9", "#ff2a00", "#3636a8", "#000000"]},
          "legend": {"orient": "none", "legendX": 29, "legendY": 28, "title": null, "symbolType": "stroke", "symbolSize": 529, "symbolStrokeWidth": 1.5, "labelFontSize": 15, "labelFont": "Liberation Sans", "labelColor": "black", "strokeColor": "black", "fillColor": "white", "padding": 3, "rowPadding": 0, "labelOffset": 5, "labelLimit": 300}
        }
      }
    },
    {
      "data": {"name": "cubeA"},
      "mark": {"type": "line", "strokeWidth": 1, "invalid": "break-paths-filter-domains"},
      "encoding": {"color": {"datum": "Cube \"A\"", "type": "nominal"}}
    },
    {
      "data": {"name": "prairie"},
      "mark": {"type": "line", "strokeWidth": 1, "invalid": "break-paths-filter-domains"},
      "encoding": {"color": {"datum": "Cube \"La Prairie\"", "type": "nominal"}}
    },
    {
      "data": {"name": "etuve"},
      "mark": {"type": "line", "strokeWidth": 1.2, "invalid": "break-paths-filter-domains"},
      "encoding": {"color": {"datum": "Étuve", "type": "nominal"}}
    },
    {
      "data": {"name": "shafts"},
      "mark": {"type": "rule", "color": "black", "strokeWidth": 2},
      "encoding": {"x2": {"field": "d2"}, "y2": {"field": "t2"}}
    },
    {
      "data": {"name": "heads"},
      "transform": [{"filter": "datum.label === 'Étuve'"}],
      "mark": {"type": "point", "shape": "M-0.6,-1L0,1L0.6,-1L0,-0.5Z", "size": 400, "filled": true, "color": "black", "opacity": 1, "strokeWidth": 0}
    },
    {
      "data": {"name": "heads"},
      "transform": [{"filter": "datum.label !== 'Étuve'"}],
      "mark": {"type": "point", "shape": "M-1,-0.6L1,0L-1,0.6L-0.5,0Z", "size": 400, "filled": true, "color": "black", "opacity": 1, "strokeWidth": 0}
    },
    {
      "data": {"name": "labels"},
      "mark": {"type": "text", "fontSize": 23, "font": "Liberation Sans", "color": "black", "align": "center", "baseline": "middle"},
      "encoding": {"text": {"field": "label", "type": "nominal"}}
    }
  ]
}
